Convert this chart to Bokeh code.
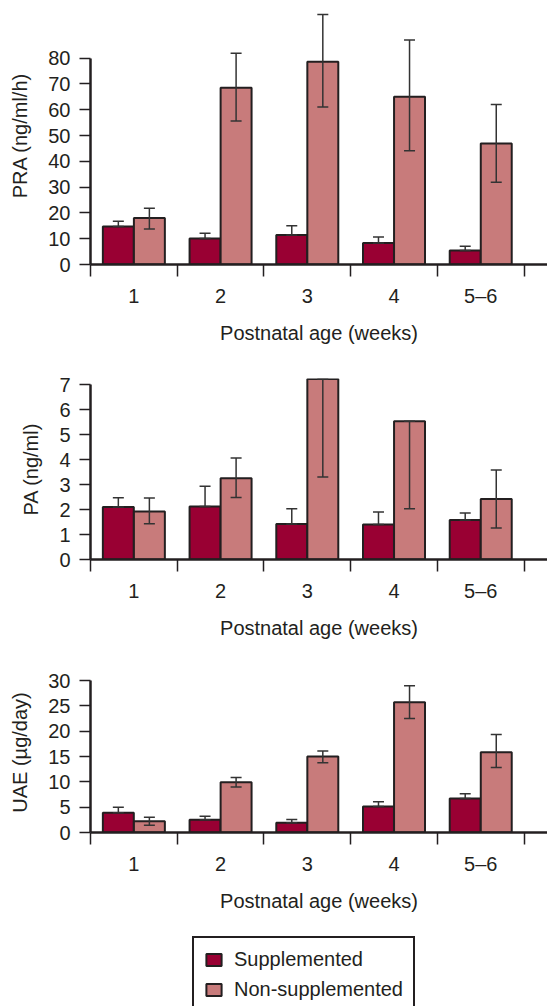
from bokeh.plotting import figure
from bokeh.models import (ColumnDataSource, Range1d, FixedTicker, LinearAxis,
                          Whisker, TeeHead, Legend, LegendItem)
from bokeh.layouts import column
from bokeh.embed import file_html
from bokeh.resources import INLINE

# ---------------- data ----------------
weeks = ["1", "2", "3", "4", "5\u20136"]

pra_supp = [14.7, 10.1, 11.4, 8.3, 5.4]
pra_supp_hi = [16.8, 12.1, 15.0, 10.7, 7.1]
pra_non = [18.0, 68.5, 78.6, 65.0, 46.9]
pra_non_lo = [13.8, 55.6, 61.0, 44.1, 31.9]
pra_non_hi = [21.8, 81.9, 96.9, 87.0, 62.0]

pa_supp = [2.10, 2.12, 1.42, 1.40, 1.58]
pa_supp_hi = [2.47, 2.93, 2.03, 1.90, 1.86]
pa_non = [1.92, 3.25, 7.23, 5.54, 2.42]
pa_non_lo = [1.43, 2.48, 3.30, 2.03, 1.26]
pa_non_hi = [2.46, 4.07, 7.23, 5.54, 3.58]

uae_supp = [3.88, 2.50, 1.91, 5.13, 6.71]
uae_supp_hi = [5.00, 3.22, 2.57, 6.05, 7.63]
uae_non = [2.24, 9.93, 15.0, 25.7, 15.86]
uae_non_lo = [1.45, 9.00, 13.8, 22.5, 12.83]
uae_non_hi = [3.03, 10.86, 16.1, 29.0, 19.34]

series_labels = ["Supplemented", "Non-supplemented"]
x_title = "Postnatal age (weeks)"

# ---------------- style ----------------
DARK = "#990033"
LIGHT = "#c87b7b"
INK = "#231f20"
FONT = "Liberation Sans"
FS = "20px"
BAR_W = 0.357
OFF = 0.179


def panel(sv, shi, nv, nlo, nhi, ymax, ystep, yend, ylabel, top_b, frame_h, bot_b):
    p = figure(width=547, height=top_b + frame_h + bot_b,
               x_range=Range1d(0, 5.27), y_range=Range1d(0, yend),
               output_backend="svg", toolbar_location=None,
               min_border_left=90, min_border_right=0,
               min_border_top=top_b, min_border_bottom=bot_b)
    p.outline_line_color = None
    p.grid.visible = False

    centers = [i + 0.5 for i in range(len(weeks))]
    xs_s = [c - OFF for c in centers]
    xs_n = [c + OFF for c in centers]

    p.vbar(x=xs_s, top=sv, bottom=0, width=BAR_W, fill_color=DARK,
           line_color=INK, line_width=2)
    p.vbar(x=xs_n, top=nv, bottom=0, width=BAR_W, fill_color=LIGHT,
           line_color=INK, line_width=2)

    for xs, lo, hi in ((xs_s, sv, shi), (xs_n, nlo, nhi)):
        src = ColumnDataSource(dict(x=xs, lower=lo, upper=hi))
        w = Whisker(base="x", lower="lower", upper="upper", source=src,
                    line_color="#333333", line_width=1.5, level="overlay",
                    upper_head=TeeHead(size=11, line_color="#333333", line_width=1.5),
                    lower_head=TeeHead(size=11, line_color="#333333", line_width=1.5))
        p.add_layout(w)

    # y axis
    ya = p.yaxis[0]
    ya.ticker = FixedTicker(ticks=list(range(0, ymax + 1, ystep)), minor_ticks=[])
    ya.bounds = (0, ymax)
    ya.axis_label = ylabel
    ya.axis_label_standoff = 14
    ya.major_tick_out = 11
    ya.major_tick_in = 0
    ya.major_label_standoff = 9
    ya.axis_line_width = 2.5
    ya.axis_line_color = INK
    ya.major_tick_line_color = INK
    ya.major_tick_line_width = 1.5

    # x axis: labels at centres, ticks at boundaries
    xa = p.xaxis[0]
    xa.ticker = FixedTicker(ticks=centers, minor_ticks=[0, 1, 2, 3, 4, 5])
    xa.major_label_overrides = {c: lab for c, lab in zip(centers, weeks)}
    xa.major_tick_out = 0
    xa.major_tick_in = 0
    xa.major_tick_line_color = None
    xa.minor_tick_out = 12
    xa.minor_tick_in = 0
    xa.minor_tick_line_color = INK
    xa.minor_tick_line_width = 1.5
    xa.major_label_standoff = 8
    xa.axis_line_width = 2.5
    xa.axis_line_color = INK

    xb = LinearAxis(ticker=FixedTicker(ticks=[]), bounds=(0, 5),
                    axis_line_color=None, major_tick_line_color=None,
                    minor_tick_line_color=None, axis_label=x_title,
                    axis_label_standoff=12)
    p.add_layout(xb, "below")

    for ax in (ya, xa, xb):
        ax.major_label_text_font = FONT
        ax.major_label_text_font_size = FS
        ax.major_label_text_color = INK
        ax.axis_label_text_font = FONT
        ax.axis_label_text_font_size = FS
        ax.axis_label_text_font_style = "normal"
        ax.axis_label_text_color = INK
    return p


p1 = panel(pra_supp, pra_supp_hi, pra_non, pra_non_lo, pra_non_hi,
           80, 10, 100, "PRA (ng/ml/h)", 6, 258, 96)
p2 = panel(pa_supp, pa_supp_hi, pa_non, pa_non_lo, pa_non_hi,
           7, 1, 7.25, "PA (ng/ml)", 18, 181, 101)
p3 = panel(uae_supp, uae_supp_hi, uae_non, uae_non_lo, uae_non_hi,
           30, 5, 31.6, "UAE (\u00b5g/day)", 12, 160, 98)

# legend figure
p4 = figure(width=547, height=76, x_range=Range1d(0, 1), y_range=Range1d(0, 1),
            output_backend="svg", toolbar_location=None,
            x_axis_location=None, y_axis_location=None,
            min_border_left=90, min_border_right=0,
            min_border_top=0, min_border_bottom=0)
p4.outline_line_color = None
p4.grid.visible = False
# tiny swatch renderers, hidden underneath the opaque legend box
r1 = p4.vbar(x=[0.5], top=[0.35], bottom=[0.3], width=0.01,
             fill_color=DARK, line_color=INK, line_width=2)
r2 = p4.vbar(x=[0.5], top=[0.35], bottom=[0.3], width=0.01,
             fill_color=LIGHT, line_color=INK, line_width=2)
legend = Legend(items=[LegendItem(label=series_labels[0], renderers=[r1]),
                       LegendItem(label=series_labels[1], renderers=[r2])],
                location=(102, -7), glyph_width=19, glyph_height=15,
                label_text_font=FONT, label_text_font_size=FS,
                label_text_color=INK, label_standoff=11,
                border_line_color=INK, border_line_width=2.5,
                border_line_alpha=1.0,
                background_fill_color="white", background_fill_alpha=1.0,
                padding=10, spacing=7, margin=0)
p4.add_layout(legend, "center")

layout = column(p1, p2, p3, p4, spacing=0)
open("out.html", "w").write(file_html(layout, INLINE))
